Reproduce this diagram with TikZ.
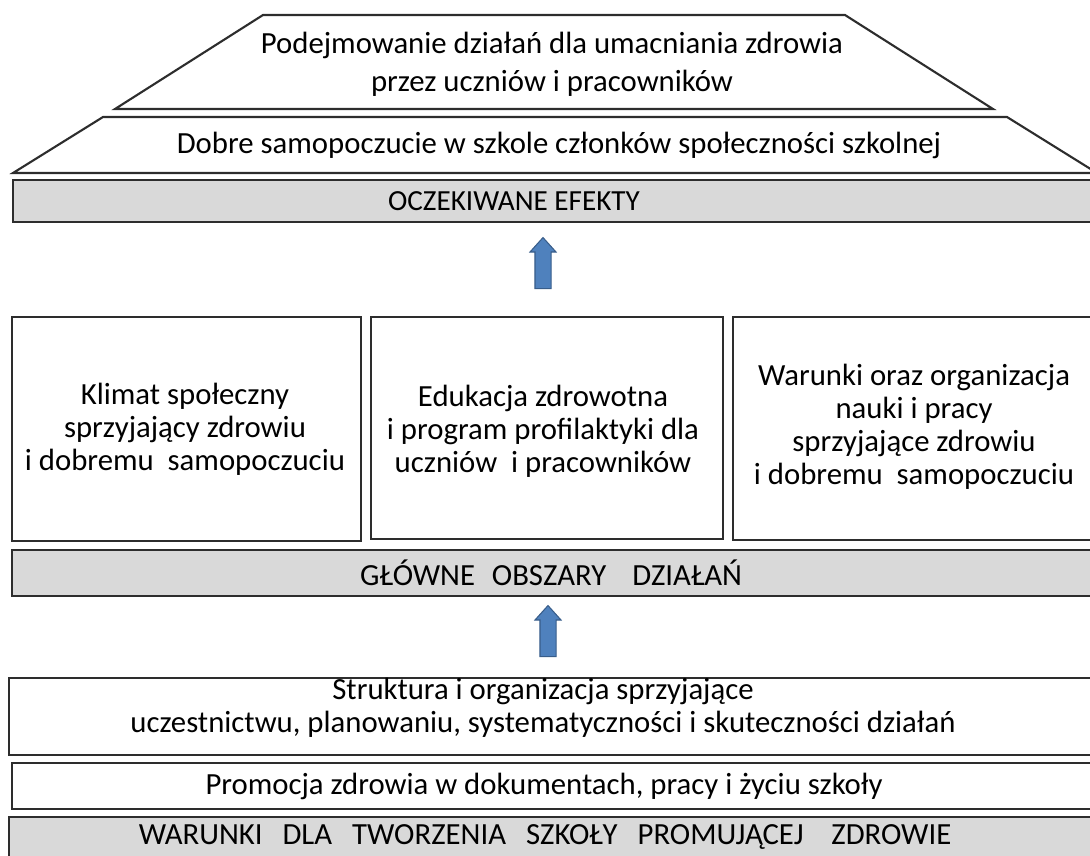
\documentclass[tikz,border=0pt]{standalone}
\usepackage{fontspec}
\setmainfont{Carlito}
\usetikzlibrary{shapes.arrows}
\definecolor{mygray}{RGB}{217,217,217}
\definecolor{myblue}{RGB}{79,129,189}
\definecolor{myedge}{RGB}{56,93,138}
\definecolor{myline}{RGB}{45,45,45}

\begin{document}
\begin{tikzpicture}[x=0.02cm,y=-0.02cm,line width=1.2pt,
  lbl/.style={align=center,inner sep=0pt,text=black,font=\fontsize{17.5}{18.8}\selectfont},
  bar/.style={draw=myline,fill=mygray,inner sep=0pt},
  frame/.style={draw=myline,fill=white,inner sep=0pt},
  uparrow/.style={single arrow,shape border rotate=90,fill=myblue,draw=myedge,
    line width=0.6pt,inner sep=0pt,minimum height=1.02cm,
    single arrow head extend=0.1cm,single arrow tip angle=84}]

  \clip (0,0) rectangle (1090,856);

  % effects on top
  \draw[frame] (263,15) -- (845,15) -- (993,109) -- (115,109) -- cycle;
  \node[lbl,font=\fontsize{17.5}{21.5}\selectfont] (umacnianie) at (552,64) {Podejmowanie działań dla umacniania zdrowia\\
    przez uczniów i pracowników};
  \draw[frame] (103,117) -- (1007,117) -- (1097,173) -- (13,173) -- cycle;
  \node[lbl] (samopoczucie) at (559,145) {Dobre samopoczucie w szkole członków społeczności szkolnej};

  \node[bar,minimum width=1084*0.02cm,minimum height=42*0.02cm] (efekty) at (555,201) {};
  \node[lbl,font=\fontsize{16.6}{18.8}\selectfont] (efektytxt) at (514,201) {OCZEKIWANE EFEKTY};

  \node[uparrow] (arrowtop) at (543,267.5) {\rule{0.3cm}{0pt}\rule{0pt}{0.3cm}};

  % three areas
  \node[frame,minimum width=349*0.02cm,minimum height=224*0.02cm] (klimat) at (186.5,429) {};
  \node[lbl] (klimattxt) at (185,429) {Klimat społeczny\\
    sprzyjający zdrowiu\\
    i dobremu\ \ samopoczuciu};
  \node[frame,minimum width=352*0.02cm,minimum height=222*0.02cm] (edukacja) at (547,428) {};
  \node[lbl] (edukacjatxt) at (543,431) {Edukacja zdrowotna\\
    i program profilaktyki dla\\
    uczniów\ \ i pracowników};
  \node[frame,minimum width=364*0.02cm,minimum height=223*0.02cm] (warunki) at (915,428.5) {};
  \node[lbl] (warunkitxt) at (914,427) {Warunki oraz organizacja\\
    nauki i pracy\\
    sprzyjające zdrowiu\\
    i dobremu\ \ samopoczuciu};

  \node[bar,minimum width=1085*0.02cm,minimum height=46*0.02cm] (obszary) at (554.5,573) {};
  \node[lbl] (obszarytxt) at (551,573) {GŁÓWNE\hspace{0.55em}OBSZARY\hspace{0.85em}DZIAŁAŃ};

  \node[uparrow] (arrowbottom) at (548,635.5) {\rule{0.3cm}{0pt}\rule{0pt}{0.3cm}};

  % conditions at the bottom
  \node[frame,minimum width=1088*0.02cm,minimum height=77*0.02cm] (struktura) at (553,716.5) {};
  \node[lbl] (strukturatxt) at (543,708) {Struktura i organizacja sprzyjające\\
    uczestnictwu, planowaniu, systematyczności i skuteczności działań};
  \node[frame,minimum width=1085*0.02cm,minimum height=46*0.02cm] (promocja) at (554.5,786) {};
  \node[lbl] (promocjatxt) at (544,786) {Promocja zdrowia w dokumentach, pracy i życiu szkoły};
  \node[bar,minimum width=1088*0.02cm,minimum height=45*0.02cm] (tworzenie) at (553,839.5) {};
  \node[lbl] (tworzenietxt) at (545,837) {WARUNKI\hspace{0.65em}DLA\hspace{0.65em}TWORZENIA\hspace{0.65em}SZKOŁY\hspace{0.65em}PROMUJĄCEJ\hspace{0.9em}ZDROWIE};

\end{tikzpicture}
\end{document}
